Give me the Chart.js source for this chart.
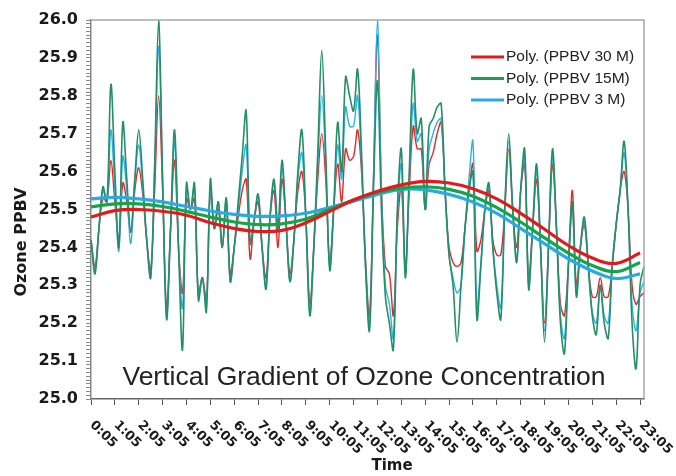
<!DOCTYPE html>
<html>
<head>
<meta charset="utf-8">
<script src="https://cdn.jsdelivr.net/npm/chart.js@4.4.1/dist/chart.umd.min.js"></script>
<style>
  html, body { margin: 0; padding: 0; background: #fff; }
  #wrap { width: 676px; height: 476px; }
</style>
</head>
<body>
<div id="wrap"><canvas id="ozone" width="676" height="476"></canvas></div>
<script>
// hourly tick labels; readings are every 10 minutes starting at 0:05
const hourLabels = ['0:05', '1:05', '2:05', '3:05', '4:05', '5:05', '6:05', '7:05',
    '8:05', '9:05', '10:05', '11:05', '12:05', '13:05', '14:05', '15:05',
    '16:05', '17:05', '18:05', '19:05', '20:05', '21:05', '22:05', '23:05']
const minuteSteps = ['05', '15', '25', '35', '45', '55']

let times = []
for (let h = 0; h < 24; h++) {
    for (let m of minuteSteps) times.push(h + ':' + m)
}
times = times.slice(0, 140) // last reading 23:15

// PPBV 15 M (green)
const ppbv15 = [
    25.42, 25.33, 25.45, 25.56, 25.52, 25.83, 25.60, 25.40, 25.73, 25.58,
    25.44, 25.58, 25.71, 25.58, 25.42, 25.32, 25.62, 26.00, 25.58, 25.21,
    25.45, 25.71, 25.40, 25.13, 25.57, 25.50, 25.57, 25.26, 25.32, 25.23,
    25.58, 25.45, 25.52, 25.40, 25.53, 25.31, 25.40, 25.52, 25.64, 25.76,
    25.41, 25.47, 25.54, 25.40, 25.29, 25.48, 25.58, 25.45, 25.63, 25.47,
    25.31, 25.42, 25.60, 25.71, 25.48, 25.22, 25.40, 25.65, 25.92, 25.65,
    25.34, 25.50, 25.73, 25.60, 25.85, 25.80, 25.76, 25.87, 25.65, 25.35,
    25.18, 25.55, 25.84, 25.50, 25.27, 25.20, 25.13, 25.50, 25.66, 25.32,
    25.60, 25.87, 25.70, 25.74, 25.50, 25.72, 25.74, 25.77, 25.78, 25.55,
    25.38, 25.30, 25.15, 25.30, 25.45, 25.55, 25.60, 25.21, 25.35, 25.50,
    25.57, 25.40, 25.28, 25.21, 25.50, 25.70, 25.50, 25.36, 25.55, 25.66,
    25.29, 25.45, 25.62, 25.40, 25.15, 25.40, 25.66, 25.45, 25.20, 25.12,
    25.35, 25.52, 25.27, 25.40, 25.48, 25.35, 25.22, 25.17, 25.30, 25.20,
    25.16, 25.35, 25.46, 25.55, 25.68, 25.50, 25.20, 25.08, 25.30, 25.35
]

// PPBV 3 M (blue)
const ppbv3 = [
    25.42, 25.34, 25.45, 25.55, 25.52, 25.71, 25.55, 25.39, 25.64, 25.55,
    25.41, 25.57, 25.67, 25.56, 25.42, 25.32, 25.60, 25.93, 25.58, 25.22,
    25.45, 25.68, 25.40, 25.24, 25.56, 25.50, 25.56, 25.27, 25.32, 25.24,
    25.56, 25.45, 25.52, 25.40, 25.53, 25.31, 25.40, 25.50, 25.60, 25.67,
    25.41, 25.47, 25.54, 25.40, 25.30, 25.48, 25.57, 25.45, 25.61, 25.47,
    25.31, 25.42, 25.58, 25.65, 25.48, 25.23, 25.40, 25.62, 25.80, 25.62,
    25.35, 25.50, 25.67, 25.58, 25.77, 25.72, 25.72, 25.80, 25.62, 25.35,
    25.19, 25.58, 26.00, 25.55, 25.30, 25.25, 25.16, 25.48, 25.62, 25.33,
    25.58, 25.78, 25.68, 25.70, 25.50, 25.66, 25.70, 25.73, 25.74, 25.55,
    25.38, 25.32, 25.28, 25.30, 25.45, 25.58, 25.68, 25.24, 25.36, 25.50,
    25.56, 25.40, 25.30, 25.24, 25.50, 25.68, 25.50, 25.37, 25.55, 25.64,
    25.30, 25.45, 25.60, 25.40, 25.18, 25.40, 25.64, 25.45, 25.22, 25.16,
    25.35, 25.50, 25.28, 25.40, 25.47, 25.35, 25.23, 25.20, 25.30, 25.22,
    25.20, 25.35, 25.46, 25.55, 25.65, 25.50, 25.25, 25.18, 25.28, 25.31
]

// PPBV 30 M (red)
const ppbv30 = [
    25.42, 25.35, 25.45, 25.53, 25.52, 25.63, 25.52, 25.42, 25.57, 25.52,
    25.44, 25.55, 25.61, 25.54, 25.42, 25.34, 25.55, 25.80, 25.55, 25.24,
    25.45, 25.63, 25.40, 25.28, 25.53, 25.50, 25.53, 25.28, 25.32, 25.26,
    25.55, 25.45, 25.50, 25.40, 25.52, 25.33, 25.40, 25.48, 25.55, 25.58,
    25.37, 25.47, 25.52, 25.40, 25.32, 25.48, 25.55, 25.40, 25.58, 25.47,
    25.33, 25.42, 25.55, 25.60, 25.48, 25.25, 25.40, 25.58, 25.70, 25.58,
    25.36, 25.50, 25.62, 25.52, 25.66, 25.63, 25.64, 25.71, 25.60, 25.37,
    25.22, 25.58, 25.96, 25.56, 25.35, 25.33, 25.22, 25.45, 25.56, 25.35,
    25.55, 25.72, 25.66, 25.66, 25.50, 25.62, 25.65, 25.70, 25.73, 25.55,
    25.40, 25.36, 25.35, 25.36, 25.45, 25.55, 25.62, 25.39, 25.42, 25.50,
    25.55, 25.42, 25.38, 25.38, 25.50, 25.66, 25.50, 25.40, 25.55, 25.62,
    25.32, 25.45, 25.58, 25.40, 25.20, 25.40, 25.62, 25.45, 25.25, 25.22,
    25.36, 25.55, 25.30, 25.40, 25.46, 25.35, 25.27, 25.27, 25.32, 25.27,
    25.27, 25.35, 25.46, 25.55, 25.60, 25.50, 25.30, 25.25, 25.27, 25.28
]

// polynomial trend lines read at each hour label
const trend30 = [25.480, 25.497, 25.500, 25.495, 25.485, 25.465, 25.450, 25.442,
    25.445, 25.465, 25.495, 25.525, 25.548, 25.565, 25.574, 25.570,
    25.555, 25.528, 25.490, 25.448, 25.405, 25.372, 25.358, 25.385]
const trend15 = [25.507, 25.515, 25.515, 25.508, 25.495, 25.480, 25.467, 25.460,
    25.462, 25.475, 25.500, 25.525, 25.545, 25.556, 25.560, 25.553,
    25.535, 25.505, 25.467, 25.425, 25.385, 25.352, 25.336, 25.360]
const trend3 = [25.528, 25.532, 25.528, 25.520, 25.508, 25.496, 25.487, 25.482,
    25.483, 25.490, 25.505, 25.522, 25.540, 25.553, 25.552, 25.540,
    25.520, 25.490, 25.450, 25.410, 25.370, 25.338, 25.318, 25.330]

const chartTitle = 'Vertical Gradient of Ozone Concentration'

function trendPoints(values) {
    return values.map((v, i) => ({x: hourLabels[i], y: v}))
}

const axisFont = 'DejaVu Sans'
const textColor = '#1a1a1a'

const extras = {
    id: 'extras',
    afterDraw(chart) {
        const {ctx, chartArea: area, scales} = chart
        ctx.save()

        // top and right frame
        ctx.strokeStyle = '#a8a8a8'
        ctx.lineWidth = 1.5
        ctx.beginPath()
        ctx.moveTo(area.left, area.top)
        ctx.lineTo(area.right, area.top)
        ctx.lineTo(area.right, area.bottom)
        ctx.stroke()

        // title inside plot
        ctx.fillStyle = '#222'
        ctx.font = '26.5px "Liberation Sans"'
        ctx.textAlign = 'center'
        ctx.textBaseline = 'alphabetic'
        ctx.fillText(chartTitle, 364, 385)

        // rotated hour labels
        ctx.font = 'bold 13px ' + axisFont
        ctx.fillStyle = textColor
        ctx.textAlign = 'left'
        ctx.textBaseline = 'middle'
        hourLabels.forEach(lbl => {
            const x = scales.x.getPixelForValue(times.indexOf(lbl))
            ctx.save()
            ctx.translate(x + 1, 423)
            ctx.rotate(Math.PI / 4)
            ctx.fillText(lbl, 0, 0)
            ctx.restore()
        })

        // axis titles
        ctx.font = 'bold 15px ' + axisFont
        ctx.textAlign = 'center'
        ctx.fillText('Time', 392, 466)
        ctx.save()
        ctx.translate(21.5, 242)
        ctx.rotate(-Math.PI / 2)
        ctx.font = 'bold 16px ' + axisFont
        ctx.fillText('Ozone PPBV', 0, 0)
        ctx.restore()

        // legend (trend lines only)
        ctx.font = '15.5px "Liberation Sans"'
        ctx.textAlign = 'left'
        chart.data.datasets.slice(0, 3).forEach((ds, i) => {
            const y = 57 + i * 21.5
            ctx.strokeStyle = ds.borderColor
            ctx.lineWidth = 3
            ctx.beginPath()
            ctx.moveTo(471, y)
            ctx.lineTo(504, y)
            ctx.stroke()
            ctx.fillStyle = '#222'
            ctx.fillText(ds.label, 506, y)
        })
        ctx.restore()
    }
}

const ctx = document.getElementById('ozone')

new Chart(ctx, {
    type: 'line',
    data: {
        labels: times,
        datasets: [{
            label: 'Poly. (PPBV 30 M)',
            data: trendPoints(trend30),
            borderColor: '#e3191c',
            borderWidth: 3.2,
            tension: 0.4,
        },
        {
            label: 'Poly. (PPBV 15M)',
            data: trendPoints(trend15),
            borderColor: '#17a34a',
            borderWidth: 3.2,
            tension: 0.4,
        },
        {
            label: 'Poly. (PPBV 3 M)',
            data: trendPoints(trend3),
            borderColor: '#29aae2',
            borderWidth: 3.2,
            tension: 0.4,
        },
        {
            label: 'PPBV 15M',
            data: ppbv15,
            borderColor: '#228f66',
            borderWidth: 1.6,
            tension: 0.35,
        },
        {
            label: 'PPBV 3 M',
            data: ppbv3,
            borderColor: '#2ab4e6',
            borderWidth: 1.4,
            tension: 0.35,
        },
        {
            label: 'PPBV 30 M',
            data: ppbv30,
            borderColor: '#e0282a',
            borderWidth: 1.4,
            tension: 0.35,
        },
        ]
    },
    options: {
        responsive: false,
        animation: false,
        events: [],
        radius: 0,
        layout: {padding: {top: 20, right: 32, left: 0, bottom: 0}},
        plugins: {
            legend: {display: false},
            tooltip: {enabled: false},
        },
        scales: {
            x: {
                type: 'category',
                afterFit(scale) { scale.height = 77 },
                border: {color: '#666', width: 1.5},
                grid: {
                    drawOnChartArea: false,
                    tickLength: 6,
                    color: c => (c.index % 6 === 0 ? '#555' : 'rgba(0,0,0,0)'),
                },
                ticks: {display: false},
            },
            y: {
                min: 25,
                max: 26,
                afterFit(scale) { scale.width = 91 },
                border: {color: '#888', width: 1.5},
                grid: {drawOnChartArea: false, tickLength: 5, color: '#888'},
                ticks: {
                    stepSize: 0.01,
                    autoSkip: false,
                    padding: 8,
                    color: textColor,
                    font: {family: axisFont, size: 16, weight: 'bold'},
                    callback: v => (Math.abs(v * 10 - Math.round(v * 10)) < 1e-6 ? v.toFixed(1) : ''),
                },
            },
        },
    },
    plugins: [extras],
})
</script>
</body>
</html>
